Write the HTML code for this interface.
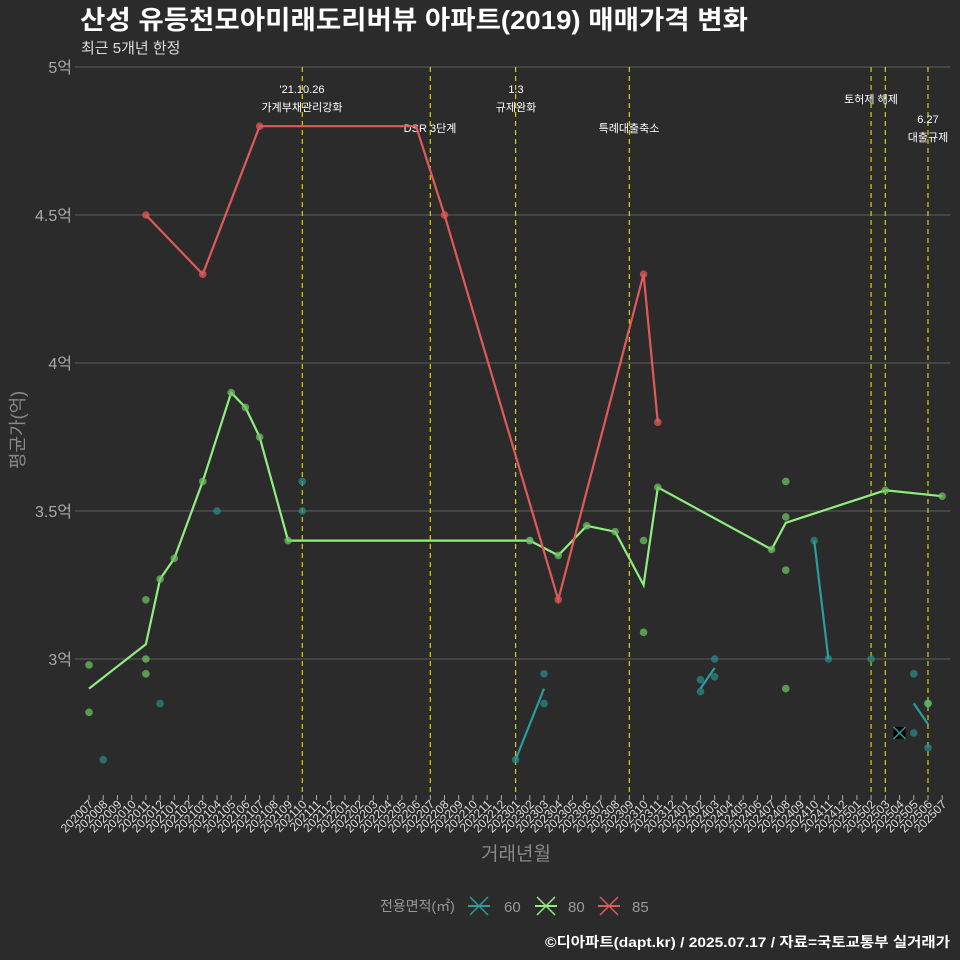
<!DOCTYPE html>
<html><head><meta charset="utf-8">
<style>
body{margin:0;background:#2b2b2b;}
svg{display:block;font-family:"Liberation Sans","Noto Sans CJK KR",sans-serif;}
</style></head>
<body>
<svg id="chart" width="960" height="960" viewBox="0 0 960 960">
<rect width="960" height="960" fill="#2b2b2b"/>
<text x="80" y="29" fill="#ffffff" font-size="26" font-weight="bold" textLength="668" lengthAdjust="spacingAndGlyphs">산성 유등천모아미래도리버뷰 아파트(2019) 매매가격 변화</text>
<text x="81" y="53" fill="#dddddd" font-size="15">최근 5개년 한정</text>
<g id="grid"></g>
<g id="vlines"></g>
<g id="series"></g>
<g id="xaxis"></g>
<text x="0" y="0" transform="translate(24,430) rotate(-90)" text-anchor="middle" fill="#888" font-size="18">평균가(억)</text>
<text x="516" y="860" text-anchor="middle" fill="#888" font-size="19">거래년월</text>
<g>
<text x="380" y="911" fill="#999" font-size="14">전용면적(㎡)</text>
<g><line x1="470" y1="897" x2="488" y2="915" stroke="#2a9d9d" stroke-width="1.5"/><line x1="488" y1="897" x2="470" y2="915" stroke="#2a9d9d" stroke-width="1.5"/><line x1="468" y1="906" x2="490" y2="906" stroke="#2a9d9d" stroke-width="2"/><text x="504" y="912" fill="#999" font-size="15">60</text></g>
<g><line x1="537" y1="897" x2="555" y2="915" stroke="#90ee80" stroke-width="1.5"/><line x1="555" y1="897" x2="537" y2="915" stroke="#90ee80" stroke-width="1.5"/><line x1="535" y1="906" x2="557" y2="906" stroke="#90ee80" stroke-width="2"/><text x="568" y="912" fill="#999" font-size="15">80</text></g>
<g><line x1="600" y1="897" x2="618" y2="915" stroke="#e05a5a" stroke-width="1.5"/><line x1="618" y1="897" x2="600" y2="915" stroke="#e05a5a" stroke-width="1.5"/><line x1="598" y1="906" x2="620" y2="906" stroke="#e05a5a" stroke-width="2"/><text x="632" y="912" fill="#999" font-size="15">85</text></g>
</g>
<text x="950" y="947" text-anchor="end" fill="#ffffff" font-size="14" font-weight="bold" textLength="405" lengthAdjust="spacingAndGlyphs">©디아파트(dapt.kr) / 2025.07.17 / 자료=국토교통부 실거래가</text>
</svg>
<script>
const yTicks=[3,3.5,4,4.5,5];
const yTickLabels=["3억","3.5억","4억","4.5억","5억"];
const startYear=2020,startMonth=7,nMonths=61;
const events=[15,24,30,38,55,56,59];
const eventLabels=[["'21.10.26","가계부채관리강화",302,93],["DSR 3단계","",430,132],["1.3","규제완화",516,93],["특례대출축소","",629,132],["토허제 해제","",871,103],["6.27","대출규제",928,123]];
const red_idx=[4,8,12,23,25,33,39,40];
const red_val=[4.5,4.3,4.8,4.8,4.5,3.2,4.3,3.8];
const red_pt_idx=[4,8,12,25,33,39,40];
const red_pt_val=[4.5,4.3,4.8,4.5,3.2,4.3,3.8];
const green_idx=[0,4,5,6,8,10,11,12,14,31,33,35,37,39,40,48,49,56,60];
const green_val=[2.9,3.05,3.27,3.34,3.6,3.9,3.85,3.75,3.4,3.4,3.35,3.45,3.43,3.25,3.58,3.37,3.46,3.57,3.55];
const green_pt_idx=[0,0,4,4,4,5,6,8,10,11,12,14,31,33,35,37,39,39,40,48,49,49,49,49,56,60,59];
const green_pt_val=[2.98,2.82,3.2,3.0,2.95,3.27,3.34,3.6,3.9,3.85,3.75,3.4,3.4,3.35,3.45,3.43,3.4,3.09,3.58,3.37,3.6,3.48,3.3,2.9,3.57,3.55,2.85];
const teal_pt_idx=[1,5,9,15,15,31,30,32,32,43,43,44,44,51,52,55,58,58,59,59];
const teal_pt_val=[2.66,2.85,3.5,3.6,3.5,3.4,2.66,2.95,2.85,2.93,2.89,3.0,2.94,3.4,3.0,3.0,2.95,2.75,2.85,2.7];
const teal_segs=[[30,2.66,32,2.9],[43,2.9,44,2.97],[51,3.4,52,3.0],[58,2.85,59,2.78]];
const teal_x_idx=57, teal_x_val=2.75;

const NS="http://www.w3.org/2000/svg";
const X=i=>89+i*14.22;
const Y=v=>659-(v-3)*296;
function mk(tag,attrs,parent,txt){const e=document.createElementNS(NS,tag);for(const k in attrs)e.setAttribute(k,attrs[k]);if(txt!==undefined)e.textContent=txt;parent.appendChild(e);return e;}
const grid=document.getElementById('grid'),vl=document.getElementById('vlines'),sr=document.getElementById('series'),xa=document.getElementById('xaxis');
yTicks.forEach((t,k)=>{
  const l=mk('line',{x1:75,x2:950,y1:Y(t),y2:Y(t),stroke:'#5e5e5e','stroke-width':1},grid);
  
  
  const tx=mk('text',{x:72,y:Y(t)+6,'text-anchor':'end',fill:'#aaa','font-size':16},grid,yTickLabels[k]);
  
  
});
events.forEach(i=>{
  const l=mk('line',{x1:X(i),x2:X(i),y1:67,y2:795,stroke:'#d4d400','stroke-width':1.2,'stroke-dasharray':'5,4'},vl);
  
  
});
eventLabels.forEach(e=>{
  const t=mk('text',{x:e[2],y:e[3],'text-anchor':'middle',fill:'#fff','font-size':11},vl,e[0]);
  
  
  if(e[1]){const t2=mk('text',{x:e[2],y:e[3]+18,'text-anchor':'middle',fill:'#fff','font-size':11},vl,e[1]);
  
  }
});
for(let i=0;i<nMonths;i++){
  const m=(startMonth-1+i)%12+1,y=startYear+Math.floor((startMonth-1+i)/12);
  const lab=y+String(m).padStart(2,'0');
  const tk=mk('line',{x1:X(i),x2:X(i),y1:795,y2:800,stroke:'#aaa'},xa);
  
  
  const t=mk('text',{x:0,y:0,transform:`translate(${X(i)+5},${805}) rotate(-45)`,'text-anchor':'end',fill:'#ddd','font-size':12},xa,lab);
  
  
}
function line(idx,val,color,name){
  const p=mk('polyline',{points:idx.map((i,k)=>X(i)+','+Y(val[k])).join(' '),fill:'none',stroke:color,'stroke-width':2.2},sr);
  
  
}
function pts(idx,val,color,name){
  idx.forEach((i,k)=>{const c=mk('circle',{cx:X(i),cy:Y(val[k]),r:3.8,fill:color,opacity:0.75},sr);
  
  });
}
pts(teal_pt_idx,teal_pt_val,'#2a8a8a','point-60');
teal_segs.forEach(s=>{const l=mk('line',{x1:X(s[0]),y1:Y(s[1]),x2:X(s[2]),y2:Y(s[3]),stroke:'#2a9d9d','stroke-width':2.2},sr);
  
  });
{const cx=X(teal_x_idx),cy=Y(teal_x_val);
 const g=mk('g',{},sr);
 
 
 mk('rect',{x:cx-6,y:cy-6,width:12,height:12,fill:'#000'},g);
 mk('line',{x1:cx-6,y1:cy-6,x2:cx+6,y2:cy+6,stroke:'#2a9d9d','stroke-width':1.5},g);
 mk('line',{x1:cx+6,y1:cy-6,x2:cx-6,y2:cy+6,stroke:'#2a9d9d','stroke-width':1.5},g);}
line(green_idx,green_val,'#90ee80','line-80');
pts(green_pt_idx,green_pt_val,'#6cc060','point-80');
line(red_idx,red_val,'#e05a5a','line-85');
pts(red_pt_idx,red_pt_val,'#e05a5a','point-85');
</script>
</body></html>
